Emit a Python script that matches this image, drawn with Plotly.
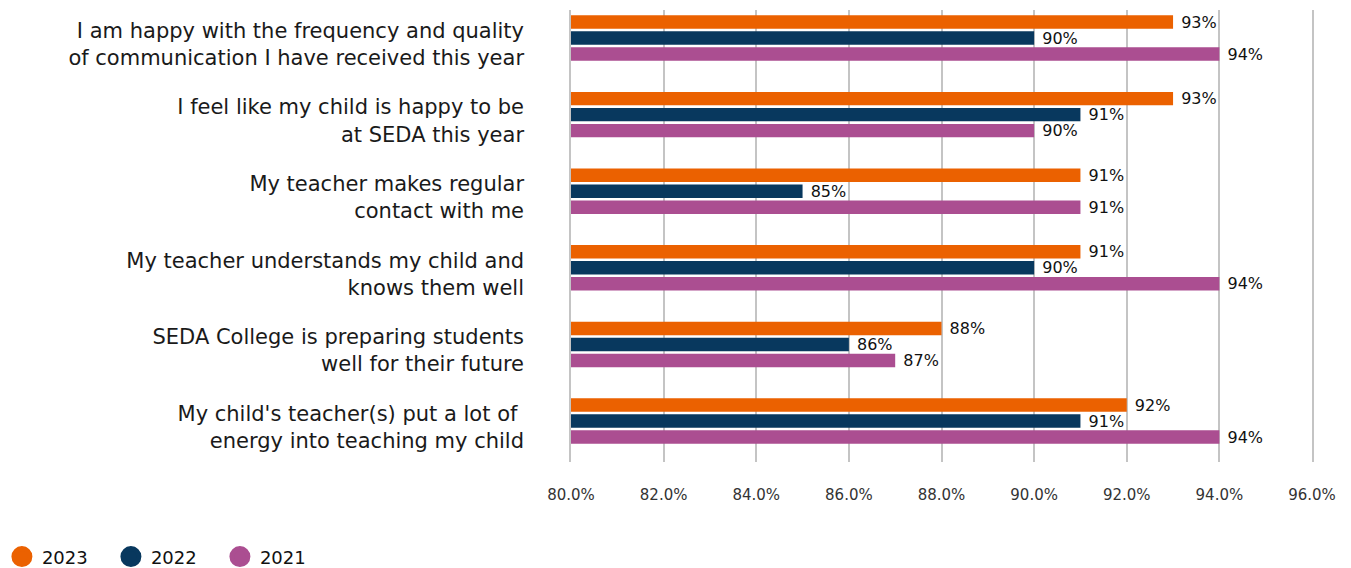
import plotly.graph_objects as go

categories = [
    "I am happy with the frequency and quality<br>of communication I have received this year",
    "I feel like my child is happy to be<br>at SEDA this year",
    "My teacher makes regular<br>contact with me",
    "My teacher understands my child and<br>knows them well",
    "SEDA College is preparing students<br>well for their future",
    "My child's teacher(s) put a lot of <br>energy into teaching my child",
]
years = ["2023", "2022", "2021"]
values_2023 = [0.93, 0.93, 0.91, 0.91, 0.88, 0.92]
values_2022 = [0.90, 0.91, 0.85, 0.90, 0.86, 0.91]
values_2021 = [0.94, 0.90, 0.91, 0.94, 0.87, 0.94]
colors = ["#EB6100", "#08385E", "#AB4E91"]
x_ticks = [0.80, 0.82, 0.84, 0.86, 0.88, 0.90, 0.92, 0.94, 0.96]

fig = go.Figure()
for name, vals, col in zip(years, [values_2023, values_2022, values_2021], colors):
    fig.add_trace(go.Bar(
        y=categories, x=vals, name=name, orientation="h",
        marker=dict(color=col, line=dict(width=0)),
        text=vals, texttemplate=" %{x:.0%}", textposition="outside",
        constraintext="none",
        textfont=dict(size=16, color="#111111", family="DejaVu Sans"),
        cliponaxis=False, showlegend=False,
    ))
    fig.add_trace(go.Scatter(
        x=[None], y=[None], mode="markers", name=name,
        marker=dict(symbol="circle", size=16, color=col,
                    line=dict(width=5, color=col)),
        showlegend=True,
    ))

fig.update_layout(
    width=1343, height=560,
    margin=dict(l=563, r=39, t=2, b=106, autoexpand=False),
    paper_bgcolor="white", plot_bgcolor="white",
    barmode="group", bargap=0.373, bargroupgap=0.16,
    font=dict(family="DejaVu Sans", color="#1a1a1a"),
    xaxis=dict(
        range=[0.80, 0.96], tickvals=x_ticks, tickformat=".1%",
        showgrid=True, gridcolor="#c4c4c4", gridwidth=1.5,
        zeroline=False, showline=False, automargin=False,
        tickfont=dict(size=15, color="#333333"),
        ticklabelstandoff=22,
    ),
    yaxis=dict(
        autorange=False, range=[5.535, -0.366],
        showgrid=False, zeroline=False, automargin=False,
        showline=True, mirror=True, linecolor="#c4c4c4", linewidth=1.5,
        tickfont=dict(size=21, color="#1a1a1a"),
        ticklabelstandoff=41, ticklabelshift=-6,
    ),
    legend=dict(
        orientation="h", x=-0.768, xref="paper", y=-0.21,
        yref="paper", xanchor="left", yanchor="middle",
        font=dict(size=18, color="#111111"),
        itemsizing="trace", entrywidth=64,
    ),
)
fig.write_html("out.html")
